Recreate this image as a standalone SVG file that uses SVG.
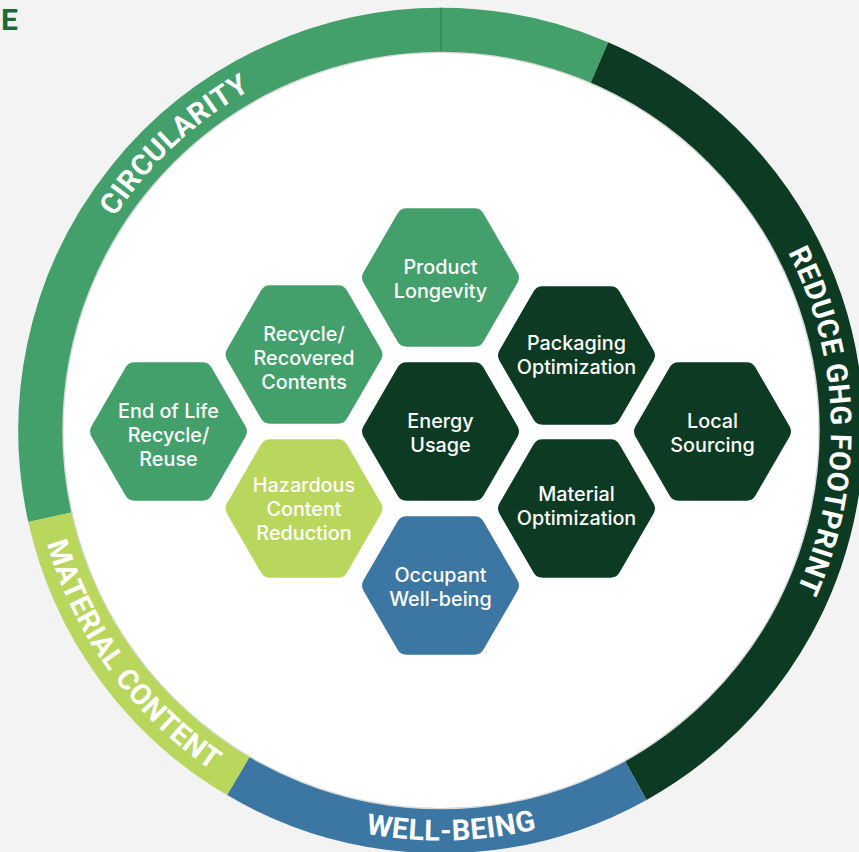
<svg xmlns="http://www.w3.org/2000/svg" xmlns:xlink="http://www.w3.org/1999/xlink" width="859" height="852" viewBox="0 0 859 852">
<defs>
<style>
.ring{fill:none;stroke-width:45.5}
.rlabel{font-family:Roboto,"Liberation Sans",sans-serif;font-weight:700;font-size:29px;fill:#fff;letter-spacing:0.5px}
.hl{font-family:Inter,"Noto Sans","Liberation Sans",sans-serif;font-weight:500;font-size:19.8px;fill:#fff;text-anchor:middle}
.g{fill:#43A06B}.d{fill:#0C3A23}.b{fill:#3C76A2}.l{fill:#B9D65D}
</style>
<path id="hex" d="M34,-69.28 Q40,-69.28 43,-64.08 L77,-5.2 Q80,0 77,5.2 L43,64.08 Q40,69.28 34,69.28 L-34,69.28 Q-40,69.28 -43,64.08 L-77,5.2 Q-80,0 -77,-5.2 L-43,-64.08 Q-40,-69.28 -34,-69.28 Z"/>
<path id="pCirc" d="M61.0,518.2 A390 390 0 0 1 555.0,57.5"/>
<path id="pGhg" d="M627.1,87.8 A390 390 0 0 1 644.8,763.0"/>
<path id="pWell" d="M91.4,644.7 A410 410 0 0 0 801.3,626.2"/>
<path id="pMat" d="M66.5,263.7 A410 410 0 0 0 483.9,838.2"/>
</defs>
<rect width="859" height="852" fill="#F3F3F3"/>
<text x="1" y="30" font-family="Roboto,'Liberation Sans',sans-serif" font-weight="700" font-size="30" fill="#1B6B3A">E</text>

<g id="ring">
<path class="ring" stroke="#43A06B" d="M50.5,517.1 A400 400 0 0 1 441,30.5"/>
<path class="ring" stroke="#43A06B" d="M441,30.5 A400 400 0 0 1 599.2,63.1"/>
<path class="ring" stroke="#0C3A23" d="M599.2,63.1 A400 400 0 0 1 635.5,780"/>
<path class="ring" stroke="#3C76A2" d="M635.5,780 A400 400 0 0 1 238.6,775.5"/>
<path class="ring" stroke="#B9D65D" d="M238.6,775.5 A400 400 0 0 1 50.5,517.1"/>
<line x1="441" y1="7.5" x2="441" y2="53" stroke="#2E7A50" stroke-width="1"/>
<circle cx="441" cy="430.5" r="378" fill="none" stroke="#d8d8d8" stroke-width="1.5"/>
<circle cx="441" cy="430.5" r="377.5" fill="#fff"/>
<text class="rlabel"><textPath href="#pCirc" startOffset="50%" text-anchor="middle">CIRCULARITY</textPath></text>
<text class="rlabel"><textPath href="#pGhg" startOffset="50%" text-anchor="middle">REDUCE GHG FOOTPRINT</textPath></text>
<text class="rlabel"><textPath href="#pWell" startOffset="50%" text-anchor="middle">WELL-BEING</textPath></text>
<text class="rlabel"><textPath href="#pMat" startOffset="50%" text-anchor="middle">MATERIAL CONTENT</textPath></text>
</g>

<g id="product-longevity">
<use href="#hex" class="g" x="440.5" y="277.5"/>
<text class="hl" x="440.5" y="273.5">Product</text>
<text class="hl" x="440.5" y="297.5">Longevity</text>
</g>
<g id="recycle-recovered">
<use href="#hex" class="g" x="304" y="354.5"/>
<text class="hl" x="304" y="341">Recycle/</text>
<text class="hl" x="304" y="365">Recovered</text>
<text class="hl" x="304" y="389">Contents</text>
</g>
<g id="end-of-life">
<use href="#hex" class="g" x="168.5" y="431.5"/>
<text class="hl" x="168.5" y="417.5">End of Life</text>
<text class="hl" x="168.5" y="441.5">Recycle/</text>
<text class="hl" x="168.5" y="465.5">Reuse</text>
</g>
<g id="hazardous">
<use href="#hex" class="l" x="304" y="508.5"/>
<text class="hl" x="304" y="492">Hazardous</text>
<text class="hl" x="304" y="516">Content</text>
<text class="hl" x="304" y="540">Reduction</text>
</g>
<g id="energy-usage">
<use href="#hex" class="d" x="440.5" y="431.5"/>
<text class="hl" x="440.5" y="427.5">Energy</text>
<text class="hl" x="440.5" y="451.5">Usage</text>
</g>
<g id="occupant-well-being">
<use href="#hex" class="b" x="440.5" y="585.5"/>
<text class="hl" x="440.5" y="581.5">Occupant</text>
<text class="hl" x="440.5" y="605.5">Well-being</text>
</g>
<g id="packaging-optimization">
<use href="#hex" class="d" x="576.5" y="355.5"/>
<text class="hl" x="576.5" y="349.5">Packaging</text>
<text class="hl" x="576.5" y="373.5">Optimization</text>
</g>
<g id="material-optimization">
<use href="#hex" class="d" x="576.5" y="508.5"/>
<text class="hl" x="576.5" y="501">Material</text>
<text class="hl" x="576.5" y="525">Optimization</text>
</g>
<g id="local-sourcing">
<use href="#hex" class="d" x="712.5" y="431.5"/>
<text class="hl" x="712.5" y="427.5">Local</text>
<text class="hl" x="712.5" y="451.5">Sourcing</text>
</g>
<g id="connectors"/>
</svg>
